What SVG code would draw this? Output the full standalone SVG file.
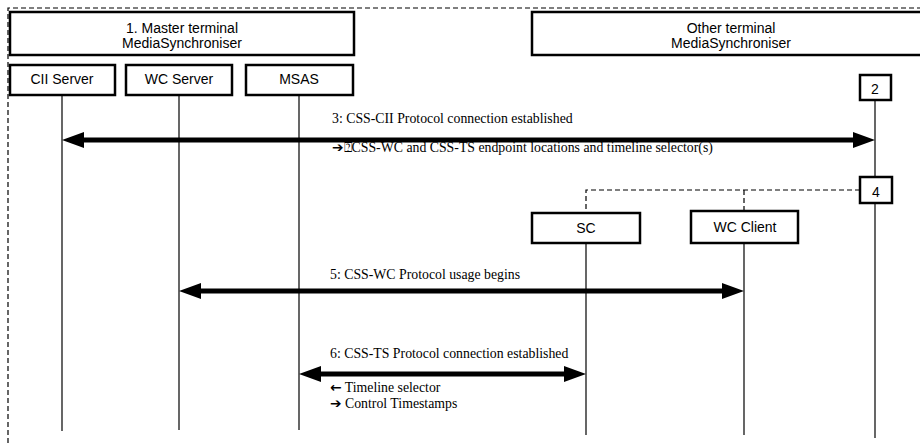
<svg xmlns="http://www.w3.org/2000/svg" width="920" height="443" viewBox="0 0 920 443">
<style>
.box{fill:#fff;stroke:#000;stroke-width:2.5}
.bl{font-family:"Liberation Sans",Arial,sans-serif;font-size:14px;text-anchor:middle;fill:#000}
.ml{font-family:"Liberation Serif","Times New Roman",serif;font-size:13.8px;fill:#000}
.life{stroke:#000;stroke-width:1.2}
.msg{stroke:#000;stroke-width:5}
.dash{fill:none;stroke:#000;stroke-width:1.2;stroke-dasharray:5,3}
.sym{font-family:"DejaVu Sans",sans-serif;font-weight:bold}
</style>
<defs>
<marker id="ah" markerUnits="userSpaceOnUse" viewBox="0 -8 22 16" refX="0" refY="0" markerWidth="22" markerHeight="16" orient="auto-start-reverse">
<path d="M0,-8 L22,0 L0,8 z" fill="#000"/>
</marker>
</defs>
<rect width="920" height="443" fill="#fff"/>
<path class="dash" d="M8,443 V8 H920"/>

<g id="lifelines">
<line class="life" x1="62" y1="95" x2="62" y2="431"/>
<line class="life" x1="179" y1="95" x2="179" y2="430"/>
<line class="life" x1="299" y1="95" x2="299" y2="430"/>
<line class="life" x1="586" y1="243" x2="586" y2="435"/>
<line class="life" x1="744" y1="243" x2="744" y2="435"/>
<line class="life" x1="875" y1="100" x2="875" y2="438" stroke="#333" stroke-width="1.5"/>
</g>

<g id="master">
<rect class="box" x="10" y="12" width="344" height="43"/>
<text class="bl" x="182" y="33">1. Master terminal</text>
<text class="bl" x="182" y="48">MediaSynchroniser</text>
</g>
<g id="other">
<rect class="box" x="532" y="12" width="400" height="43"/>
<text class="bl" x="731" y="33">Other terminal</text>
<text class="bl" x="731" y="48">MediaSynchroniser</text>
</g>
<g id="cii-server">
<rect class="box" x="10" y="65" width="105" height="30"/>
<text class="bl" x="62" y="84">CII Server</text>
</g>
<g id="wc-server">
<rect class="box" x="126" y="65" width="106" height="30"/>
<text class="bl" x="179" y="84">WC Server</text>
</g>
<g id="msas">
<rect class="box" x="246" y="65" width="107" height="30"/>
<text class="bl" x="299" y="84">MSAS</text>
</g>
<g id="step2">
<rect class="box" x="860" y="75" width="31" height="25"/>
<text class="bl" x="875" y="94">2</text>
</g>
<g id="step4">
<rect class="box" x="860" y="177" width="32" height="26"/>
<text class="bl" x="876" y="197">4</text>
</g>
<g id="sc">
<rect class="box" x="532" y="213" width="108" height="30"/>
<text class="bl" x="586" y="233">SC</text>
</g>
<g id="wc-client">
<rect class="box" x="691" y="211" width="107" height="32"/>
<text class="bl" x="745" y="232">WC Client</text>
</g>

<g id="connectors">
<path class="dash" d="M860,190 H586 V213"/>
<path class="dash" d="M744,190 V211"/>
<line class="msg" x1="84" y1="140" x2="853" y2="140" marker-start="url(#ah)" marker-end="url(#ah)"/>
<line class="msg" x1="201" y1="291" x2="722" y2="291" marker-start="url(#ah)" marker-end="url(#ah)"/>
<line class="msg" x1="321" y1="374" x2="564" y2="374" marker-start="url(#ah)" marker-end="url(#ah)"/>
</g>

<g id="labels">
<text class="ml" x="332" y="123">3: CSS-CII Protocol connection established</text>
<text class="ml" x="332" y="152"><tspan class="sym">➔</tspan>⍰CSS-WC and CSS-TS endpoint locations and timeline selector(s)</text>
<text class="ml" x="330" y="279">5: CSS-WC Protocol usage begins</text>
<text class="ml" x="330" y="358">6: CSS-TS Protocol connection established</text>
<text class="ml" x="330" y="392"><tspan class="sym">←</tspan> Timeline selector</text>
<text class="ml" x="330" y="408"><tspan class="sym">➔</tspan> Control Timestamps</text>
</g>
</svg>
